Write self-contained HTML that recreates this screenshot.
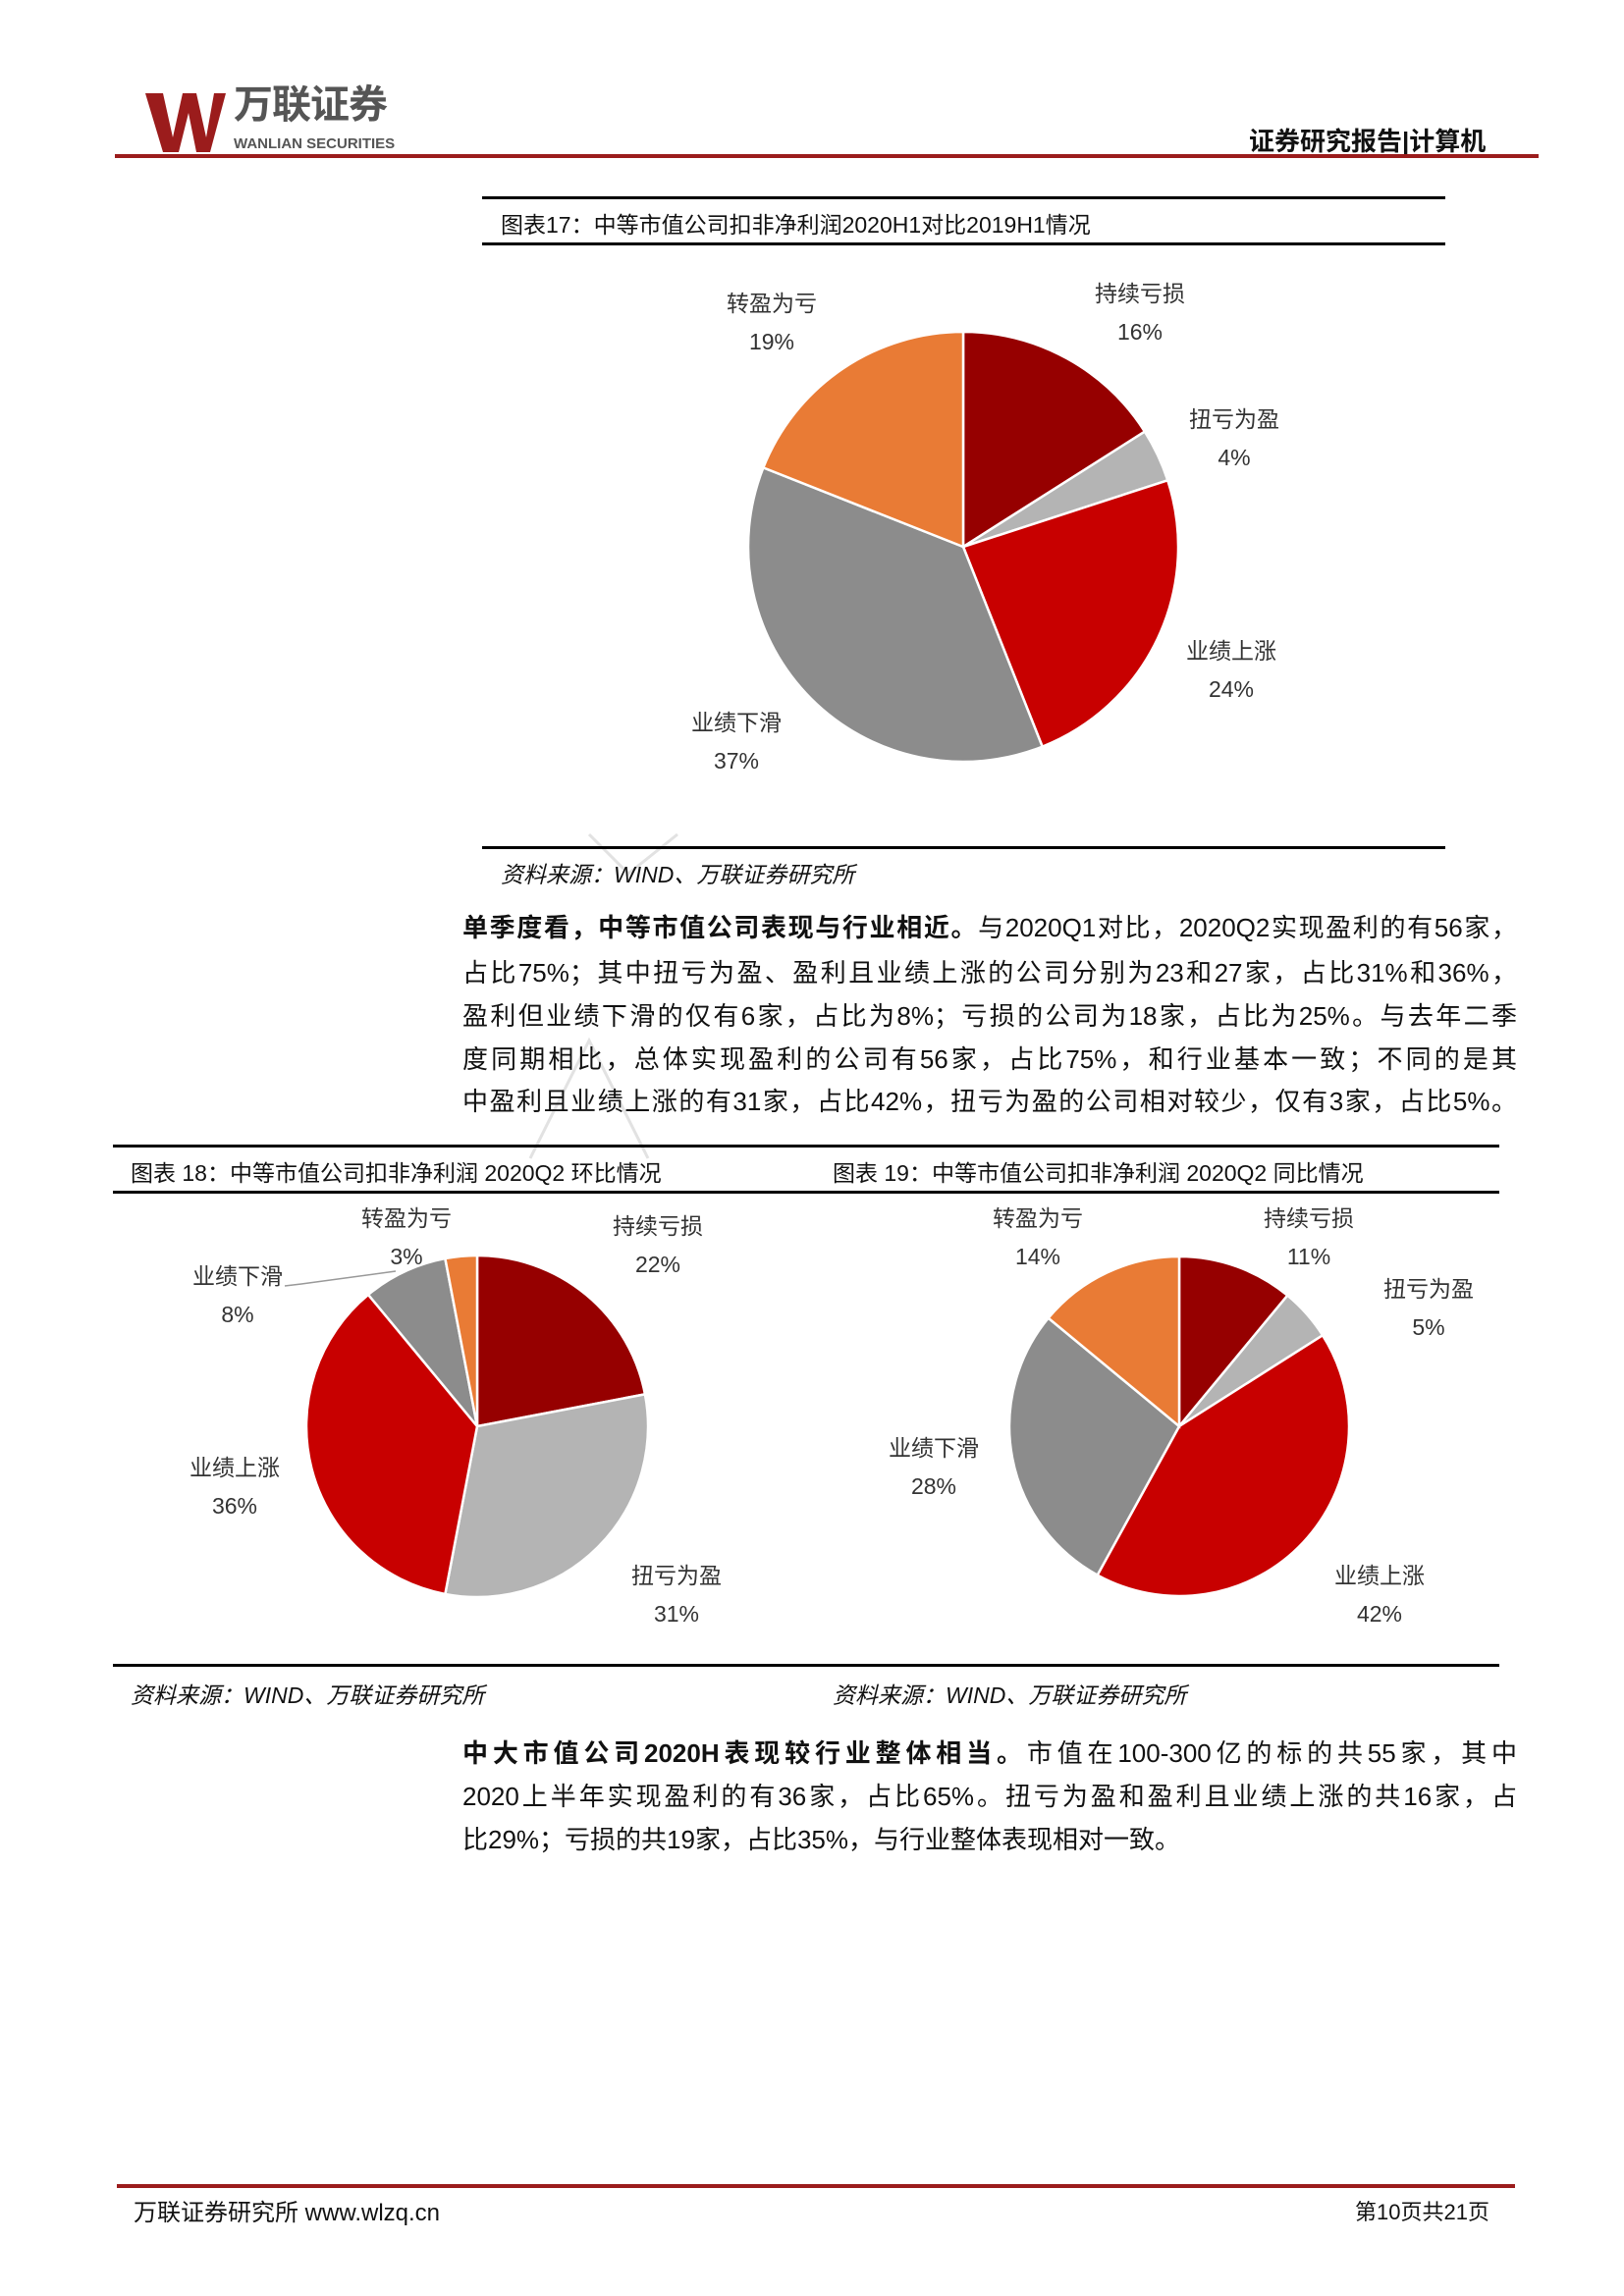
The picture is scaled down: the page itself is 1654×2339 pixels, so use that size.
<!DOCTYPE html>
<html><head><meta charset="utf-8">
<style>
body{margin:0;background:#fff;}
#page{position:relative;width:1654px;height:2339px;background:#fff;overflow:hidden;font-family:"Liberation Sans","Noto Sans CJK SC",sans-serif;color:#111;}
.abs{position:absolute;white-space:nowrap;}
.rule{position:absolute;background:#000;}
.ln{position:absolute;left:471px;width:1074px;font-size:26px;line-height:32px;text-align:justify;text-align-last:justify;white-space:nowrap;}
.src{font-style:italic;font-size:23px;}
.ttl{font-size:23px;}
</style></head><body>
<div id="page">
<svg class="abs" style="left:0;top:0" width="1654" height="2339">
  <polygon points="148,95 166,95 176,140 186,95 200,95 210,140 218,95 230,95 214,155 200,155 192,115 182,155 166,155" fill="#9b1c1c"/>
  <g stroke="#e2e2e2" stroke-width="3" fill="none">
    <polyline points="540,1180 600,1060 660,1180"/><polyline points="600,850 640,890 690,850"/>
  </g>
</svg>
<div class="abs" style="left:238px;top:84px;font-size:40px;line-height:46px;font-weight:bold;color:#555;letter-spacing:-1px">万联证券</div>
<div class="abs" style="left:238px;top:138px;font-size:15px;line-height:18px;font-weight:bold;color:#555">WANLIAN SECURITIES</div>
<div class="abs" style="left:1272px;top:124px;font-size:26px;font-weight:bold">证券研究报告|计算机</div>
<div class="rule" style="left:117px;top:157px;width:1450px;height:4px;background:#9b1c1c"></div>

<div class="rule" style="left:491px;top:200px;width:981px;height:3px"></div>
<div class="abs ttl" style="left:510px;top:210px">图表17：中等市值公司扣非净利润2020H1对比2019H1情况</div>
<div class="rule" style="left:491px;top:247px;width:981px;height:3px"></div>
<svg class="abs" id="pie17" style="left:0;top:0" width="1654" height="900"></svg>
<div class="rule" style="left:491px;top:862px;width:981px;height:3px"></div>
<div class="abs src" style="left:510px;top:872px">资料来源：WIND、万联证券研究所</div>

<div>
<div class="ln" style="top:929px"><b>单季度看，中等市值公司表现与行业相近。</b>与2020Q1对比，2020Q2实现盈利的有56家，</div>
<div class="ln" style="top:975px">占比75%；其中扭亏为盈、盈利且业绩上涨的公司分别为23和27家，占比31%和36%，</div>
<div class="ln" style="top:1019px">盈利但业绩下滑的仅有6家，占比为8%；亏损的公司为18家，占比为25%。与去年二季</div>
<div class="ln" style="top:1063px">度同期相比，总体实现盈利的公司有56家，占比75%，和行业基本一致；不同的是其</div>
<div class="ln" style="top:1106px">中盈利且业绩上涨的有31家，占比42%，扭亏为盈的公司相对较少，仅有3家，占比5%。</div>
</div>

<div class="rule" style="left:115px;top:1166px;width:1412px;height:3px"></div>
<div class="abs ttl" style="left:133px;top:1176px">图表 18：中等市值公司扣非净利润 2020Q2 环比情况</div>
<div class="abs ttl" style="left:848px;top:1176px">图表 19：中等市值公司扣非净利润 2020Q2 同比情况</div>
<div class="rule" style="left:115px;top:1213px;width:1412px;height:3px"></div>
<svg class="abs" id="pie18" style="left:0;top:0" width="1654" height="1700"></svg>
<svg class="abs" id="pie19" style="left:0;top:0" width="1654" height="1700"></svg>
<div class="rule" style="left:115px;top:1695px;width:1412px;height:3px"></div>
<div class="abs src" style="left:133px;top:1708px">资料来源：WIND、万联证券研究所</div>
<div class="abs src" style="left:848px;top:1708px">资料来源：WIND、万联证券研究所</div>

<div>
<div class="ln" style="top:1770px"><b>中大市值公司2020H表现较行业整体相当。</b>市值在100-300亿的标的共55家，其中</div>
<div class="ln" style="top:1814px">2020上半年实现盈利的有36家，占比65%。扭亏为盈和盈利且业绩上涨的共16家，占</div>
<div class="ln" style="top:1858px;text-align-last:left">比29%；亏损的共19家，占比35%，与行业整体表现相对一致。</div>
</div>

<div class="rule" style="left:119px;top:2225px;width:1424px;height:4px;background:#9b1c1c"></div>
<div class="abs" style="left:136px;top:2234px;font-size:24px">万联证券研究所 www.wlzq.cn</div>
<div class="abs" style="left:1380px;top:2236px;font-size:22px">第10页共21页</div>
</div>
<script>
const cats17=["持续亏损","扭亏为盈","业绩上涨","业绩下滑","转盈为亏"];
const vals17=[16,4,24,37,19];
const cats18=["持续亏损","扭亏为盈","业绩上涨","业绩下滑","转盈为亏"];
const vals18=[22,31,36,8,3];
const cats19=["持续亏损","扭亏为盈","业绩上涨","业绩下滑","转盈为亏"];
const vals19=[11,5,42,28,14];
const NS="http://www.w3.org/2000/svg";
function drawPie(svgId,cats,vals,cx,cy,r,colors,labelPos,prefix){
  const svg=document.getElementById(svgId);
  const tot=vals.reduce((a,b)=>a+b,0);
  let a=-Math.PI/2;
  vals.forEach((v,i)=>{
    const a2=a+v/tot*2*Math.PI;
    const x1=cx+r*Math.cos(a),y1=cy+r*Math.sin(a),x2=cx+r*Math.cos(a2),y2=cy+r*Math.sin(a2);
    const p=document.createElementNS(NS,"path");
    p.setAttribute("d",`M${cx},${cy}L${x1},${y1}A${r},${r} 0 ${a2-a>Math.PI?1:0} 1 ${x2},${y2}Z`);
    p.setAttribute("fill",colors[i]);p.setAttribute("stroke","#fff");p.setAttribute("stroke-width","2.5");
    
    
    svg.appendChild(p);
    const lp=labelPos[i];
    [[cats[i],lp[1]],[v+"%",lp[1]+39]].forEach(([t,y],k)=>{
      const tx=document.createElementNS(NS,"text");
      tx.setAttribute("x",lp[0]);tx.setAttribute("y",y+8);tx.setAttribute("text-anchor","middle");
      tx.setAttribute("font-size","23");tx.setAttribute("fill","#333");
      tx.setAttribute("font-family",'"Liberation Sans","Noto Sans CJK SC",sans-serif');
      tx.textContent=t;
      
      
      svg.appendChild(tx);
    });
    a=a2;
  });
}
const colA=["#960000","#B4B4B4","#C80000","#8C8C8C","#E97B35"];
drawPie("pie17",cats17,vals17,981,557,219,colA,[[1161,299],[1257,427],[1254,663],[750,736],[786,309]],"fig17");
drawPie("pie18",cats18,vals18,486,1453,174,colA,[[670,1249],[689,1605],[239,1495],[242,1300],[414,1241]],"fig18");
drawPie("pie19",cats19,vals19,1201,1453,173,colA,[[1333,1241],[1455,1313],[1405,1605],[951,1475],[1057,1241]],"fig19");
const ll=document.createElementNS(NS,"polyline");
ll.setAttribute("points","290,1310 307,1308 403,1295");ll.setAttribute("fill","none");ll.setAttribute("stroke","#999");ll.setAttribute("stroke-width","1.5");


document.getElementById("pie18").appendChild(ll);
</script>
</body></html>
